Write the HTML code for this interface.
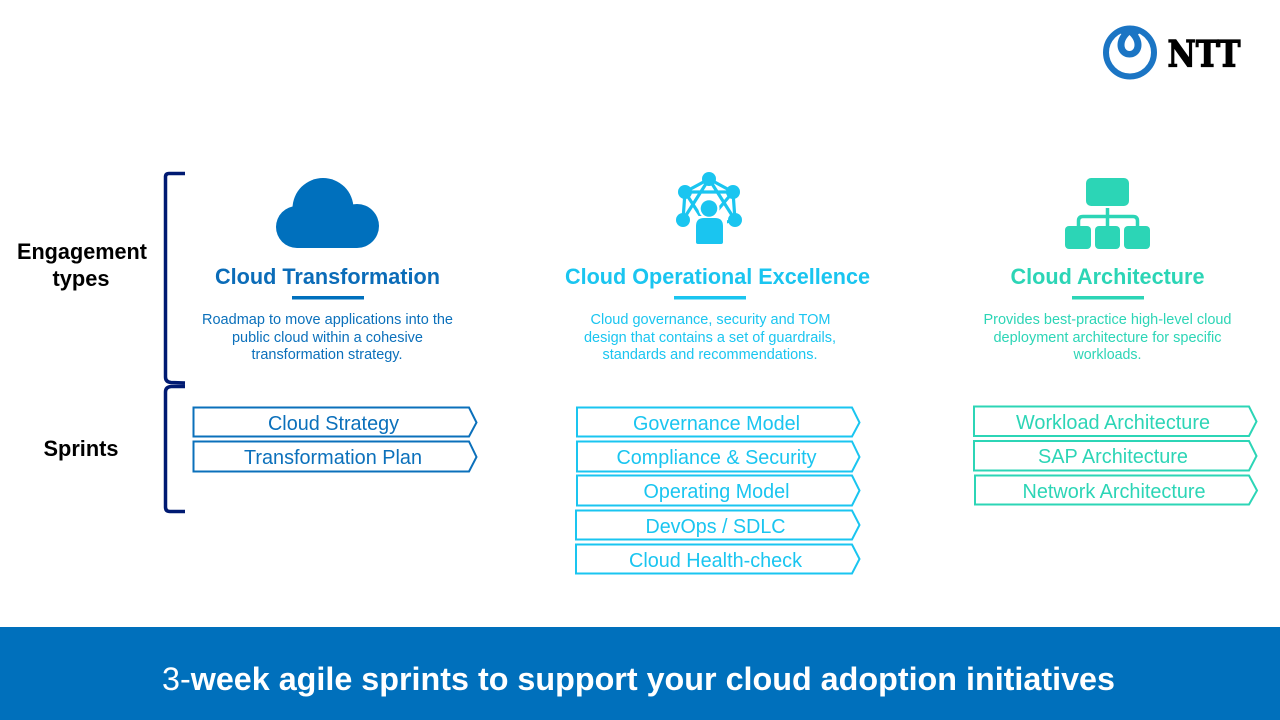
<!DOCTYPE html>
<html><head><meta charset="utf-8"><title>Cloud sprints</title>
<style>
html,body{margin:0;padding:0;background:#fff}
svg{display:block}
text{font-family:"Liberation Sans",sans-serif;text-anchor:middle}
.t{font-size:22px;font-weight:bold}
.d{font-size:14.8px}
.s{font-size:20.5px}
.l{font-size:22px;font-weight:bold;fill:#000}
.b{fill:#fff;stroke-width:2}
</style></head><body>
<svg width="1280" height="720" viewBox="0 0 1280 720" xmlns="http://www.w3.org/2000/svg">
<rect width="1280" height="720" fill="#fff"/>

<!-- logo -->
<circle cx="1130" cy="52.5" r="24" fill="none" stroke="#1b75c4" stroke-width="6"/>
<circle cx="1124" cy="31" r="4" fill="#1b75c4"/>
<circle cx="1136" cy="31" r="4" fill="#1b75c4"/>
<path d="M1129.500 28C1122 31 1117.500 38 1117.500 45C1117.500 52 1122.500 57.500 1129.500 57.500C1136.500 57.500 1141.500 52 1141.500 45C1141.500 38 1137 31 1129.500 28Z" fill="#1b75c4"/>
<path d="M1129.500 35C1126 38.500 1124.500 41.500 1124.500 45C1124.500 48.800 1126.800 51 1129.500 51C1132.200 51 1134.500 48.800 1134.500 45C1134.500 41.500 1133 38.500 1129.500 35Z" fill="#fff"/>
<text x="1204" y="66.500" style="font-family:'DejaVu Serif',serif;font-weight:bold;font-size:36px" fill="#000" stroke="#000" stroke-width="1.200" textLength="73" lengthAdjust="spacingAndGlyphs">NTT</text>

<!-- brackets -->
<path d="M185 173.500H169Q165.500 173.500 165.500 177V377Q165.500 382 171 382.500L185 383M185 386.500H171Q165.500 387 165.500 392V507Q165.500 511.500 170 511.500H185" fill="none" stroke="#001a72" stroke-width="3.500"/>

<!-- left labels -->
<text class="l" x="82" y="259" textLength="130" lengthAdjust="spacingAndGlyphs">Engagement</text>
<text class="l" x="81" y="286" textLength="57" lengthAdjust="spacingAndGlyphs">types</text>
<text class="l" x="81" y="456" textLength="75" lengthAdjust="spacingAndGlyphs">Sprints</text>

<!-- cloud icon -->
<g fill="#0070bd">
<circle cx="323" cy="208.500" r="30.500"/>
<circle cx="297" cy="227" r="21"/>
<circle cx="357" cy="226" r="22"/>
<rect x="297" y="215" width="60" height="33"/>
</g>
<text class="t" x="327.500" y="284" fill="#0b6cb8" textLength="225" lengthAdjust="spacingAndGlyphs">Cloud Transformation</text>
<rect x="292" y="296" width="72" height="3.500" fill="#0070bd"/>
<g class="d" fill="#0b70bb">
<text x="327.500" y="324" textLength="251" lengthAdjust="spacingAndGlyphs">Roadmap to move applications into the</text>
<text x="327.500" y="342" textLength="191" lengthAdjust="spacingAndGlyphs">public cloud within a cohesive</text>
<text x="327" y="359" textLength="151" lengthAdjust="spacingAndGlyphs">transformation strategy.</text>
</g>

<!-- network icon -->
<g stroke="#1ac5f0" stroke-width="3.200" fill="none">
<path d="M709 179L685 192L683 220M709 179L733 192L735 220M685 192L733 192M685 192L703 220M733 192L716 212M709 179L683 220M709 179L735 220M722 223L735 220"/>
</g>
<g fill="#1ac5f0">
<circle cx="709" cy="179" r="7"/>
<circle cx="685" cy="192" r="7"/>
<circle cx="733" cy="192" r="7"/>
<circle cx="683" cy="220" r="7"/>
<circle cx="735" cy="220" r="7"/>
</g>
<circle cx="709" cy="208.500" r="10.500" fill="#fff"/>
<path d="M692 216H727V246H692Z" fill="#fff"/>
<circle cx="709" cy="208.500" r="8.300" fill="#1ac5f0"/>
<path d="M696 226Q696 218 704 218H715Q723 218 723 226V242Q723 244 721 244H698Q696 244 696 242Z" fill="#1ac5f0"/>
<text class="t" x="717.500" y="284" fill="#1ac5f0" textLength="305" lengthAdjust="spacingAndGlyphs">Cloud Operational Excellence</text>
<rect x="674" y="296" width="72" height="3.500" fill="#1ac5f0"/>
<g class="d" fill="#1ac5f0">
<text x="710.500" y="324" textLength="240" lengthAdjust="spacingAndGlyphs">Cloud governance, security and TOM</text>
<text x="710" y="342" textLength="252" lengthAdjust="spacingAndGlyphs">design that contains a set of guardrails,</text>
<text x="710" y="359" textLength="215" lengthAdjust="spacingAndGlyphs">standards and recommendations.</text>
</g>

<!-- org icon -->
<g fill="#2cd5b6">
<rect x="1086" y="178" width="43" height="28" rx="5"/>
<rect x="1065" y="226" width="26" height="23" rx="4"/>
<rect x="1095" y="226" width="25" height="23" rx="4"/>
<rect x="1124" y="226" width="26" height="23" rx="4"/>
</g>
<path d="M1107.500 208V226M1078.500 226V221Q1078.500 216.500 1083 216.500H1133Q1137.500 216.500 1137.500 221V226" fill="none" stroke="#2cd5b6" stroke-width="3.500"/>
<text class="t" x="1107.500" y="284" fill="#2cd5b6" textLength="194" lengthAdjust="spacingAndGlyphs">Cloud Architecture</text>
<rect x="1072" y="296" width="72" height="3.500" fill="#2cd5b6"/>
<g class="d" fill="#2cd5b6">
<text x="1107.500" y="324" textLength="248" lengthAdjust="spacingAndGlyphs">Provides best-practice high-level cloud</text>
<text x="1107.500" y="342" textLength="228" lengthAdjust="spacingAndGlyphs">deployment architecture for specific</text>
<text x="1107.500" y="359" textLength="68" lengthAdjust="spacingAndGlyphs">workloads.</text>
</g>

<!-- sprints blue -->
<g stroke="#0b70bb">
<path class="b" d="M193.500 407.500H469L476.500 422.500L469 436.500H193.500Z"/>
<path class="b" d="M193.500 441.500H469L476.500 457L469 471.500H193.500Z"/>
</g>
<g class="s" fill="#0b70bb">
<text x="333.500" y="430" textLength="131" lengthAdjust="spacingAndGlyphs">Cloud Strategy</text>
<text x="333" y="464" textLength="178" lengthAdjust="spacingAndGlyphs">Transformation Plan</text>
</g>

<!-- sprints cyan -->
<g stroke="#1ac5f0">
<path class="b" d="M577 407.500H852L859.500 422.500L852 436.500H577Z"/>
<path class="b" d="M577 441.500H852L859.500 457L852 471.500H577Z"/>
<path class="b" d="M577 475.500H852L859.500 490.500L852 505.500H577Z"/>
<path class="b" d="M576 510.500H852L859.500 525L852 539.500H576Z"/>
<path class="b" d="M576 544.500H852L859.500 559L852 573.500H576Z"/>
</g>
<g class="s" fill="#1ac5f0">
<text x="716.500" y="430" textLength="167" lengthAdjust="spacingAndGlyphs">Governance Model</text>
<text x="716.500" y="464" textLength="200" lengthAdjust="spacingAndGlyphs">Compliance &amp; Security</text>
<text x="716.500" y="498" textLength="146" lengthAdjust="spacingAndGlyphs">Operating Model</text>
<text x="715.500" y="533" textLength="140" lengthAdjust="spacingAndGlyphs">DevOps / SDLC</text>
<text x="715.500" y="567" textLength="173" lengthAdjust="spacingAndGlyphs">Cloud Health-check</text>
</g>

<!-- sprints teal -->
<g stroke="#2cd5b6">
<path class="b" d="M974 406.500H1249L1256.500 421.500L1249 436H974Z"/>
<path class="b" d="M974 441H1249L1256.500 456L1249 470.500H974Z"/>
<path class="b" d="M975 475.500H1249L1257 490.500L1249 504.500H975Z"/>
</g>
<g class="s" fill="#2cd5b6">
<text x="1113" y="429" textLength="194" lengthAdjust="spacingAndGlyphs">Workload Architecture</text>
<text x="1113" y="463" textLength="150" lengthAdjust="spacingAndGlyphs">SAP Architecture</text>
<text x="1114" y="498" textLength="183" lengthAdjust="spacingAndGlyphs">Network Architecture</text>
</g>

<!-- footer -->
<rect x="0" y="627" width="1280" height="93" fill="#0070bc"/>
<text x="638.500" y="690" fill="#fff" style="font-size:32.500px;font-weight:bold" textLength="953" lengthAdjust="spacingAndGlyphs"><tspan font-weight="normal">3-</tspan>week agile sprints to support your cloud adoption initiatives</text>
</svg>
</body></html>
